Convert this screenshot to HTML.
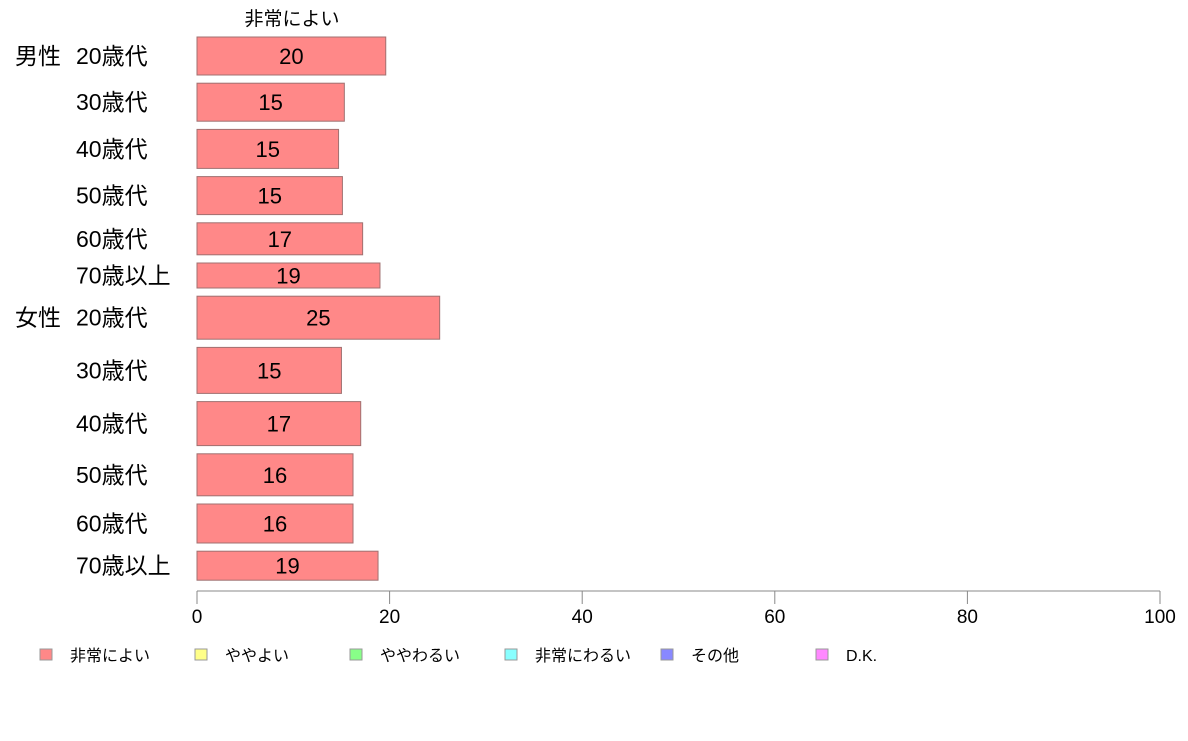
<!DOCTYPE html>
<html><head><meta charset="utf-8"><style>
body{margin:0;background:#fff;}
svg text{font-family:"Liberation Sans","Noto Sans CJK JP",sans-serif;}
</style></head><body>
<svg id="chart" width="1188" height="736"></svg>
<script>
const groups=["男性","","","","","","女性","","","","",""];
const ages=["20歳代","30歳代","40歳代","50歳代","60歳代","70歳以上","20歳代","30歳代","40歳代","50歳代","60歳代","70歳以上"];
const values=[19.6,15.3,14.7,15.1,17.2,19.0,25.2,15.0,17.0,16.2,16.2,18.8];
const labels=["20","15","15","15","17","19","25","15","17","16","16","19"];
const sizes=[38,38,39,38,32,25,43,46,44,42,39,29];
const ticks=[0,20,40,60,80,100];
const legendNames=["非常によい","ややよい","ややわるい","非常にわるい","その他","D.K."];
const legendColors=["#ff8888","#ffff88","#88ff88","#88ffff","#8888ff","#ff88ff"];
const NS="http://www.w3.org/2000/svg";
const svg=document.getElementById("chart");
const x0=197,x1=1160;
const xs=v=>x0+(x1-x0)*v/100;
function mk(tag,attrs,txt){const e=document.createElementNS(NS,tag);for(const k in attrs)e.setAttribute(k,attrs[k]);if(txt!==undefined)e.textContent=txt;svg.appendChild(e);return e;}
let t=mk("text",{x:292,y:25,"font-size":19,"text-anchor":"middle",fill:"#000"},"非常によい");


const gap=8.2;let y=37;
sizes.forEach((h,i)=>{
  const cy=y+h/2;
  const r=mk("rect",{x:x0,y:y,width:xs(values[i])-x0,height:h,fill:"#ff8888",stroke:"#a07070","stroke-width":1});
  
  
  const v=mk("text",{x:(x0+xs(values[i]))/2,y:cy+8,"font-size":22,"text-anchor":"middle",fill:"#000"},labels[i]);
  
  
  const a=mk("text",{x:76,y:cy+8,"font-size":23,fill:"#000"},ages[i]);
  
  
  if(groups[i]){
    const g=mk("text",{x:15,y:cy+8,"font-size":23,fill:"#000"},groups[i]);
    
    
  }
  y+=h+gap;
});
const ax=mk("line",{x1:x0,x2:x1,y1:591,y2:591,stroke:"#888","stroke-width":1});


ticks.forEach(v=>{
  const l=mk("line",{x1:xs(v),x2:xs(v),y1:591,y2:604,stroke:"#888","stroke-width":1});
  
  
  const tl=mk("text",{x:xs(v),y:623,"font-size":19,"text-anchor":"middle",fill:"#000"},String(v));
  
  
});
const lx=[40,195,350,505,661,816];
legendNames.forEach((n,i)=>{
  const b=mk("rect",{x:lx[i],y:649,width:12,height:11,fill:legendColors[i],stroke:"#999","stroke-width":1});
  
  
  const tx=mk("text",{x:lx[i]+30,y:661,"font-size":16,fill:"#000"},n);
  
  
});
</script>
</body></html>
